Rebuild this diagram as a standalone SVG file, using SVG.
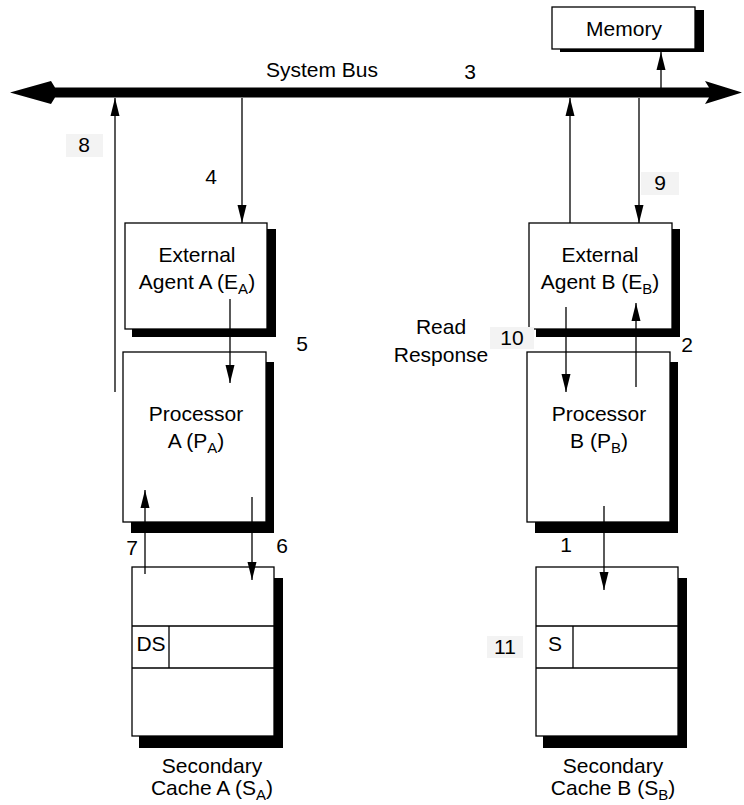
<svg xmlns="http://www.w3.org/2000/svg" width="744" height="805" viewBox="0 0 744 805">
<style>
text{font-family:"Liberation Sans",Arial,sans-serif;font-size:21px;fill:#000}
.c{text-anchor:middle}
.sub{font-size:15px}
.box{fill:#fff;stroke:#000;stroke-width:1.3}
.sh{fill:#000}
.ln{fill:none;stroke:#000;stroke-width:1.3}
.arr{fill:none;stroke:#000;stroke-width:1.3;marker-end:url(#ah)}
.lbg{fill:#f3f3f3}
</style>
<defs>
<marker id="ah" markerUnits="userSpaceOnUse" markerWidth="19" markerHeight="11" refX="18" refY="5.5" orient="auto">
<path d="M0,1 L18,5.5 L0,10 z" fill="#000"/>
</marker>
</defs>

<g id="bus">
<polygon points="10,92.5 51,81 55,87.5 709,87.5 705,81 742,92.5 705,104 709,97.5 55,97.5 51,104" fill="#000"/>
<text x="266" y="77">System Bus</text>
<text x="470" y="79" class="c">3</text>
</g>

<g id="memory">
<rect class="sh" x="560" y="10" width="144" height="42"/>
<rect class="box" x="552" y="7" width="143" height="42"/>
<text x="624" y="36" class="c">Memory</text>
</g>

<g id="agentA">
<rect class="sh" x="132" y="229" width="144" height="108"/>
<rect class="box" x="125" y="223" width="142" height="106"/>
<text x="197" y="262" class="c">External</text>
<text x="197" y="289" class="c">Agent A (E<tspan class="sub" dy="5">A</tspan><tspan dy="-5">)</tspan></text>
</g>

<g id="agentB">
<rect class="sh" x="536" y="229" width="144" height="108"/>
<rect class="box" x="529" y="223" width="143" height="106"/>
<text x="600" y="262" class="c">External</text>
<text x="600" y="289" class="c">Agent B (E<tspan class="sub" dy="5">B</tspan><tspan dy="-5">)</tspan></text>
</g>

<g id="procA">
<rect class="sh" x="131" y="362" width="143" height="171"/>
<rect class="box" x="123" y="352" width="143" height="170"/>
<text x="196" y="421" class="c">Processor</text>
<text x="196" y="448" class="c">A (P<tspan class="sub" dy="5">A</tspan><tspan dy="-5">)</tspan></text>
</g>

<g id="procB">
<rect class="sh" x="535" y="362" width="143" height="171"/>
<rect class="box" x="527" y="352" width="143" height="170"/>
<text x="599" y="421" class="c">Processor</text>
<text x="599" y="448" class="c">B (P<tspan class="sub" dy="5">B</tspan><tspan dy="-5">)</tspan></text>
</g>

<g id="cacheA">
<rect class="sh" x="139" y="578" width="144" height="170"/>
<rect class="box" x="132" y="567" width="142" height="169"/>
<path class="ln" d="M132,626 H274 M132,668 H274 M169,626 V668"/>
<text x="151" y="651" class="c">DS</text>
<text x="212" y="773" class="c">Secondary</text>
<text x="212" y="795" class="c">Cache A (S<tspan class="sub" dy="5">A</tspan><tspan dy="-5">)</tspan></text>
</g>

<g id="cacheB">
<rect class="sh" x="543" y="578" width="144" height="170"/>
<rect class="box" x="536" y="567" width="142" height="169"/>
<path class="ln" d="M536,626 H678 M536,668 H678 M573,626 V668"/>
<text x="555" y="651" class="c">S</text>
<text x="613" y="773" class="c">Secondary</text>
<text x="613" y="795" class="c">Cache B (S<tspan class="sub" dy="5">B</tspan><tspan dy="-5">)</tspan></text>
</g>

<g id="connectors">
<path class="arr" d="M661,88 V52"/>
<path class="arr" d="M242,98 V223"/>
<path class="arr" d="M115,392 V98"/>
<path class="arr" d="M230,299 V383"/>
<path class="arr" d="M145,574 V490"/>
<path class="arr" d="M252,497 V580"/>
<path class="arr" d="M570,223 V98"/>
<path class="arr" d="M639,98 V223"/>
<path class="arr" d="M566,307 V392"/>
<path class="arr" d="M636,387 V303"/>
<path class="arr" d="M604,506 V590"/>
</g>

<g id="labels">
<rect class="lbg" x="66" y="134" width="37" height="23"/>
<text x="84" y="152" class="c">8</text>
<text x="211" y="184" class="c">4</text>
<rect class="lbg" x="641" y="172" width="38" height="23"/>
<text x="660" y="190" class="c">9</text>
<text x="302" y="351" class="c">5</text>
<text x="441" y="334" class="c">Read</text>
<text x="441" y="362" class="c">Response</text>
<rect class="lbg" x="490" y="327" width="44" height="22"/>
<text x="512" y="345" class="c">10</text>
<text x="687" y="352" class="c">2</text>
<text x="132" y="555" class="c">7</text>
<text x="282" y="553" class="c">6</text>
<text x="566" y="552" class="c">1</text>
<rect class="lbg" x="487" y="636" width="36" height="22"/>
<text x="505" y="654" class="c">11</text>
</g>
</svg>
